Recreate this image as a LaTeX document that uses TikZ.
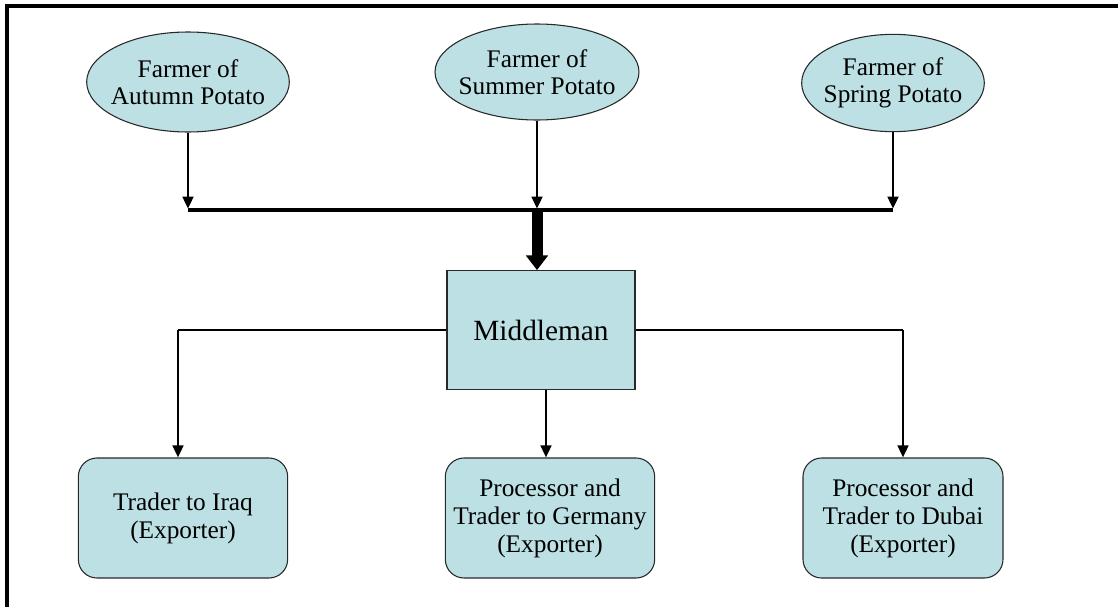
\documentclass[tikz,border=0pt]{standalone}
\usepackage{fontspec}
\setmainfont{Liberation Serif}
\usetikzlibrary{arrows.meta,shapes.geometric}
\definecolor{boxfill}{RGB}{188,224,227}
\definecolor{edge}{RGB}{40,40,40}
\tikzset{
  farmer/.style={ellipse,draw=edge,line width=0.8pt,fill=boxfill,inner sep=0pt},
  lbl/.style={align=center,font=\fontsize{19pt}{20.5pt}\selectfont},
  midbox/.style={rectangle,draw=edge,line width=0.8pt,fill=boxfill,
    minimum width=141pt,minimum height=89pt,font=\fontsize{22pt}{24pt}\selectfont},
  trader/.style={rectangle,rounded corners=14pt,draw=edge,line width=0.8pt,fill=boxfill,
    minimum height=90pt,align=center,font=\fontsize{19pt}{21pt}\selectfont},
  feed/.style={line width=2pt,-{Triangle[length=9pt,width=8pt]}},
  busline/.style={line width=3pt},
  bigarrow/.style={line width=8.25pt,-{Triangle[length=11pt,width=16pt]}},
  branch/.style={line width=1.1pt},
  outlet/.style={line width=1.8pt,-{Triangle[length=9pt,width=8pt]}},
  frame/.style={line width=2.4pt}
}
\begin{document}
\begin{tikzpicture}[x=0.75pt,y=-0.75pt]
\useasboundingbox (0,0) rectangle (1118,607);
% frame
\coordinate (fBL) at (7,607);
\coordinate (fTL) at (7,6);
\coordinate (fTR) at (1118,6);
\draw[frame] (fBL) -- (fTL) -- (fTR);
% farmers
\node[farmer,minimum width=152pt,minimum height=75pt,
  label={[lbl]center:{Farmer of\\Autumn Potato}}] (aut) at (188,82) {};
\node[farmer,minimum width=153pt,minimum height=72pt,
  label={[lbl]center:{Farmer of\\Summer Potato}}] (sum) at (537,72) {};
\node[farmer,minimum width=137pt,minimum height=73pt,
  label={[lbl]center:{Farmer of\\Spring Potato}}] (spr) at (893,83) {};
% bus
\coordinate (bL) at (188,210);
\coordinate (bM) at (537,210);
\coordinate (bR) at (893,210);
\draw[feed] (aut.south) -- ([yshift=1pt]bL);
\draw[feed] (sum.south) -- ([yshift=1pt]bM);
\draw[feed] (spr.south) -- ([yshift=1pt]bR);
\draw[busline] (bL) -- (bR);
% middleman
\node[midbox] (mid) at (541,330) {Middleman};
\draw[bigarrow] (bM) -- (mid.north -| bM);
% traders
\node[trader,minimum width=157pt] (iraq) at (183,518) {Trader to Iraq\\(Exporter)};
\node[trader,minimum width=157pt] (ger) at (550,518) {Processor and\\Trader to Germany\\(Exporter)};
\node[trader,minimum width=150pt] (dub) at (903,518) {Processor and\\Trader to Dubai\\(Exporter)};
\coordinate (jL) at (178,330);
\coordinate (jR) at (903,330);
\coordinate (gx) at (546,0);
\draw[branch] (mid.west) -- (jL);
\draw[branch] (mid.east) -- (jR);
\draw[outlet] (jL) -- (jL |- iraq.north);
\draw[outlet] (jR) -- (dub.north);
\draw[outlet] (mid.south -| gx) -- (ger.north -| gx);
\end{tikzpicture}
\end{document}
